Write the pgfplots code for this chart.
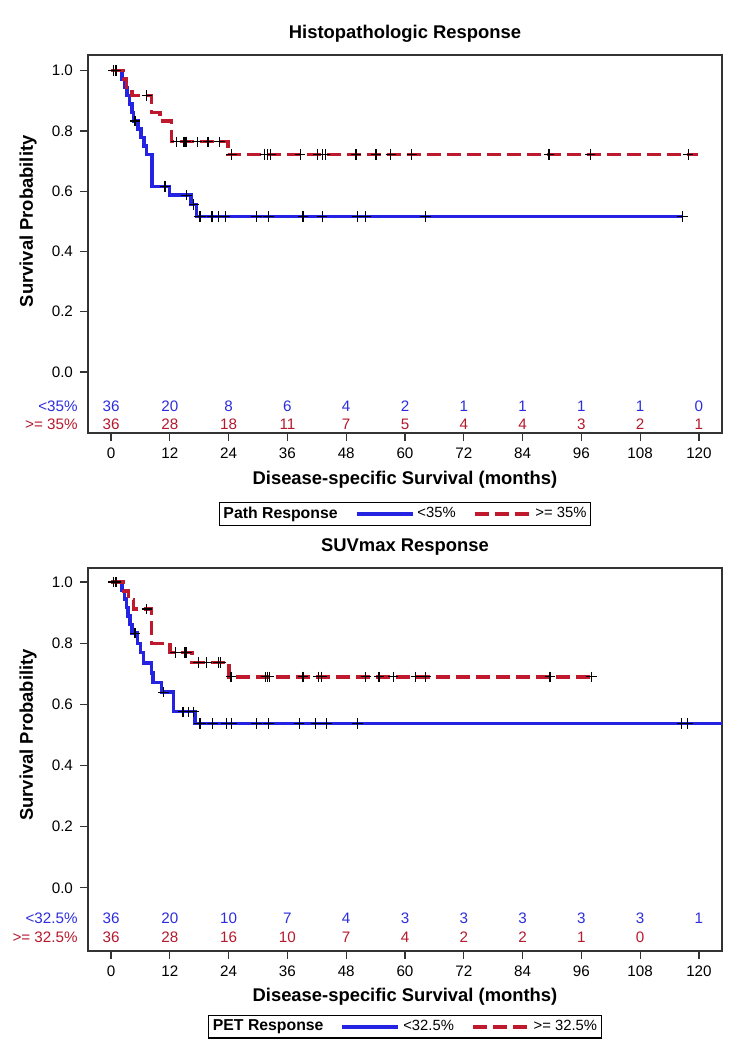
\documentclass[border=0pt]{standalone}
\usepackage{fontspec}
\setmainfont{Liberation Sans}
\usepackage{pgfplots}
\pgfplotsset{compat=1.18}
\definecolor{kmblue}{RGB}{35,35,225}
\definecolor{kmred}{RGB}{190,25,45}
\definecolor{txtblue}{RGB}{45,45,220}
\definecolor{txtred}{RGB}{180,25,45}
\pgfplotsset{
 kmaxis/.style={
  scale only axis, width=317pt,
  xmin=-4.7, xmax=124.7,
  xtick={0,12,...,120},
  ytick={0,0.2,0.4,0.6,0.8,1.0},
  yticklabel style={/pgf/number format/.cd,fixed,fixed zerofill,precision=1},
  tick align=outside, xtick pos=left, ytick pos=left,
  major tick length=4pt,
  tick style={black!80, line width=0.6pt},
  axis line style={black!80, line width=0.6pt},
  /pgf/number format/assume math mode=true,
  ticklabel style={font=\fontsize{7.6}{8}\selectfont},
  label style={font=\bfseries\fontsize{9.2}{11}\selectfont},
  title style={font=\bfseries\fontsize{9.2}{11}\selectfont},
  clip=false,
  legend columns=-1,
  legend style={draw=black, line width=0.6pt, font=\fontsize{7.4}{8}\selectfont, inner sep=0.5pt,
    nodes={inner sep=1.6pt},
    /tikz/every even column/.append style={column sep=7pt}},
  legend image code/.code={\draw[##1] (0pt,0pt) -- (28pt,0pt);},
 },
 blueline/.style={kmblue, line width=1.7pt},
 redline/.style={kmred, line width=1.7pt, dash pattern=on 7pt off 3pt},
 censor/.style={only marks, mark=+, mark size=2.6pt, black, mark options={line width=0.6pt}, forget plot},
 risk/.style={only marks, mark=none, forget plot, nodes near coords, point meta=explicit symbolic,
   nodes near coords align={center},
   every node near coord/.append style={font=\fontsize{7.6}{8}\selectfont, text=#1}},
}
\begin{document}
\begin{tikzpicture}
\path[use as bounding box] (-44pt,-308.5pt) rectangle (323pt,216.5pt);
% ---------------- top ----------------
\begin{axis}[kmaxis, height=189pt, ymin=-0.2025, ymax=1.052,
  title={Histopathologic Response},
  title style={at={(axis description cs:0.5,1)}, anchor=center, yshift=4.5pt},
  xlabel={Disease-specific Survival (months)},
  xlabel style={at={(axis description cs:0.5,-0.124)}, anchor=center},
  ylabel={Survival Probability},
  ylabel style={at={(axis description cs:-0.0946,0.56)}, anchor=center},
  legend style={at={(0.5,-0.214)}, anchor=center}]
\addlegendimage{empty legend}
\addlegendentry{\bfseries\fontsize{7.9}{8}\selectfont Path Response}
\addlegendimage{blueline}
\addlegendentry{<35\%}
\addlegendimage{redline}
\addlegendentry{>= 35\%}
\addplot[blueline, const plot, forget plot] coordinates {
 (0,1.000) (2.2,0.972) (2.8,0.944) (3.3,0.917) (3.8,0.889) (4.3,0.861) (4.6,0.833)
 (5.5,0.806) (6.1,0.778) (6.7,0.750) (7.3,0.722) (8.4,0.615) (11.9,0.587)
 (16.3,0.556) (17.4,0.516) (116.6,0.516)};
\addplot[redline, const plot, forget plot] coordinates {
 (0,1.000) (2.5,0.972) (3.2,0.944) (4.3,0.917) (8.3,0.861) (10.0,0.833) (12.4,0.764)
 (23.9,0.722) (119.8,0.722)};
\addplot[censor] coordinates {
 (0.5,1) (1.0,1) (4.9,0.833) (11.0,0.615) (15.4,0.587) (16.9,0.556) (18.0,0.516) (18.3,0.516)
 (20.6,0.516) (21.9,0.516) (23.3,0.516) (29.7,0.516) (32.1,0.516) (39.2,0.516) (43.1,0.516)
 (50.3,0.516) (52.0,0.516) (64.2,0.516) (116.6,0.516)};
\addplot[censor] coordinates {
 (0.5,1) (1.0,1) (7.3,0.917) (13.4,0.764) (14.9,0.764) (15.3,0.764) (17.6,0.764) (19.8,0.764)
 (22.1,0.764) (24.6,0.722) (31.4,0.722) (31.9,0.722) (32.6,0.722) (38.6,0.722) (42.2,0.722)
 (43.1,0.722) (43.7,0.722) (50.0,0.722) (54.1,0.722) (57.1,0.722) (61.4,0.722) (89.4,0.722)
 (97.8,0.722) (117.8,0.722)};
\addplot[risk=txtblue] coordinates {
 (0,-0.113)[36] (12,-0.113)[20] (24,-0.113)[8] (36,-0.113)[6] (48,-0.113)[4] (60,-0.113)[2]
 (72,-0.113)[1] (84,-0.113)[1] (96,-0.113)[1] (108,-0.113)[1] (120,-0.113)[0]};
\addplot[risk=txtred] coordinates {
 (0,-0.173)[36] (12,-0.173)[28] (24,-0.173)[18] (36,-0.173)[11] (48,-0.173)[7] (60,-0.173)[5]
 (72,-0.173)[4] (84,-0.173)[4] (96,-0.173)[3] (108,-0.173)[2] (120,-0.173)[1]};
\node[anchor=east, text=txtblue, font=\fontsize{7.6}{8}\selectfont, inner sep=0pt] at ([xshift=-5pt]axis cs:-4.7,-0.113) {<35\%};
\node[anchor=east, text=txtred, font=\fontsize{7.6}{8}\selectfont, inner sep=0pt] at ([xshift=-5pt]axis cs:-4.7,-0.173) {>= 35\%};
\end{axis}
% ---------------- bottom ----------------
\begin{axis}[kmaxis, at={(0pt,-259pt)}, anchor=south west, height=191.5pt, ymin=-0.2066, ymax=1.046,
  title={SUVmax Response},
  title style={at={(axis description cs:0.5,1)}, anchor=center, yshift=4.5pt},
  xlabel={Disease-specific Survival (months)},
  xlabel style={at={(axis description cs:0.5,-0.120)}, anchor=center},
  ylabel={Survival Probability},
  ylabel style={at={(axis description cs:-0.0946,0.564)}, anchor=center},
  legend style={at={(0.5,-0.198)}, anchor=center}]
\addlegendimage{empty legend}
\addlegendentry{\bfseries\fontsize{7.9}{8}\selectfont PET Response}
\addlegendimage{blueline}
\addlegendentry{<32.5\%}
\addlegendimage{redline}
\addlegendentry{>= 32.5\%}
\addplot[blueline, const plot, forget plot] coordinates {
 (0,1.000) (2.2,0.972) (2.7,0.944) (3.1,0.917) (3.5,0.889) (3.9,0.861) (4.3,0.833)
 (5.4,0.800) (6.0,0.770) (6.6,0.735) (8.3,0.703) (8.6,0.672) (10.3,0.640) (12.7,0.576)
 (17.1,0.537) (124.7,0.537)};
\addplot[redline, const plot, forget plot] coordinates {
 (0,1.000) (2.5,0.971) (3.6,0.941) (4.6,0.912) (8.3,0.800) (12.0,0.770) (16.5,0.737)
 (24.1,0.690) (98.1,0.690)};
\addplot[censor] coordinates {
 (0.5,1) (1.0,1) (4.9,0.833) (10.7,0.640) (14.7,0.576) (15.8,0.576) (16.8,0.576) (18.0,0.537)
 (18.3,0.537) (20.7,0.537) (23.6,0.537) (24.6,0.537) (29.7,0.537) (32.1,0.537) (38.4,0.537)
 (41.8,0.537) (44.0,0.537) (50.3,0.537) (116.5,0.537) (117.7,0.537)};
\addplot[censor] coordinates {
 (0.5,1) (1.0,1) (7.3,0.912) (13.1,0.770) (15.1,0.770) (15.4,0.770) (17.8,0.737) (19.5,0.737)
 (21.9,0.737) (22.4,0.737) (24.5,0.690) (31.6,0.690) (31.9,0.690) (32.3,0.690) (39.2,0.690)
 (42.3,0.690) (43.0,0.690) (52.0,0.690) (54.7,0.690) (57.6,0.690) (62.2,0.690) (64.2,0.690)
 (89.6,0.690) (98.1,0.690)};
\addplot[risk=txtblue] coordinates {
 (0,-0.099)[36] (12,-0.099)[20] (24,-0.099)[10] (36,-0.099)[7] (48,-0.099)[4] (60,-0.099)[3]
 (72,-0.099)[3] (84,-0.099)[3] (96,-0.099)[3] (108,-0.099)[3] (120,-0.099)[1]};
\addplot[risk=txtred] coordinates {
 (0,-0.161)[36] (12,-0.161)[28] (24,-0.161)[16] (36,-0.161)[10] (48,-0.161)[7] (60,-0.161)[4]
 (72,-0.161)[2] (84,-0.161)[2] (96,-0.161)[1] (108,-0.161)[0]};
\node[anchor=east, text=txtblue, font=\fontsize{7.6}{8}\selectfont, inner sep=0pt] at ([xshift=-5pt]axis cs:-4.7,-0.099) {<32.5\%};
\node[anchor=east, text=txtred, font=\fontsize{7.6}{8}\selectfont, inner sep=0pt] at ([xshift=-5pt]axis cs:-4.7,-0.161) {>= 32.5\%};
\end{axis}
\end{tikzpicture}
\end{document}
